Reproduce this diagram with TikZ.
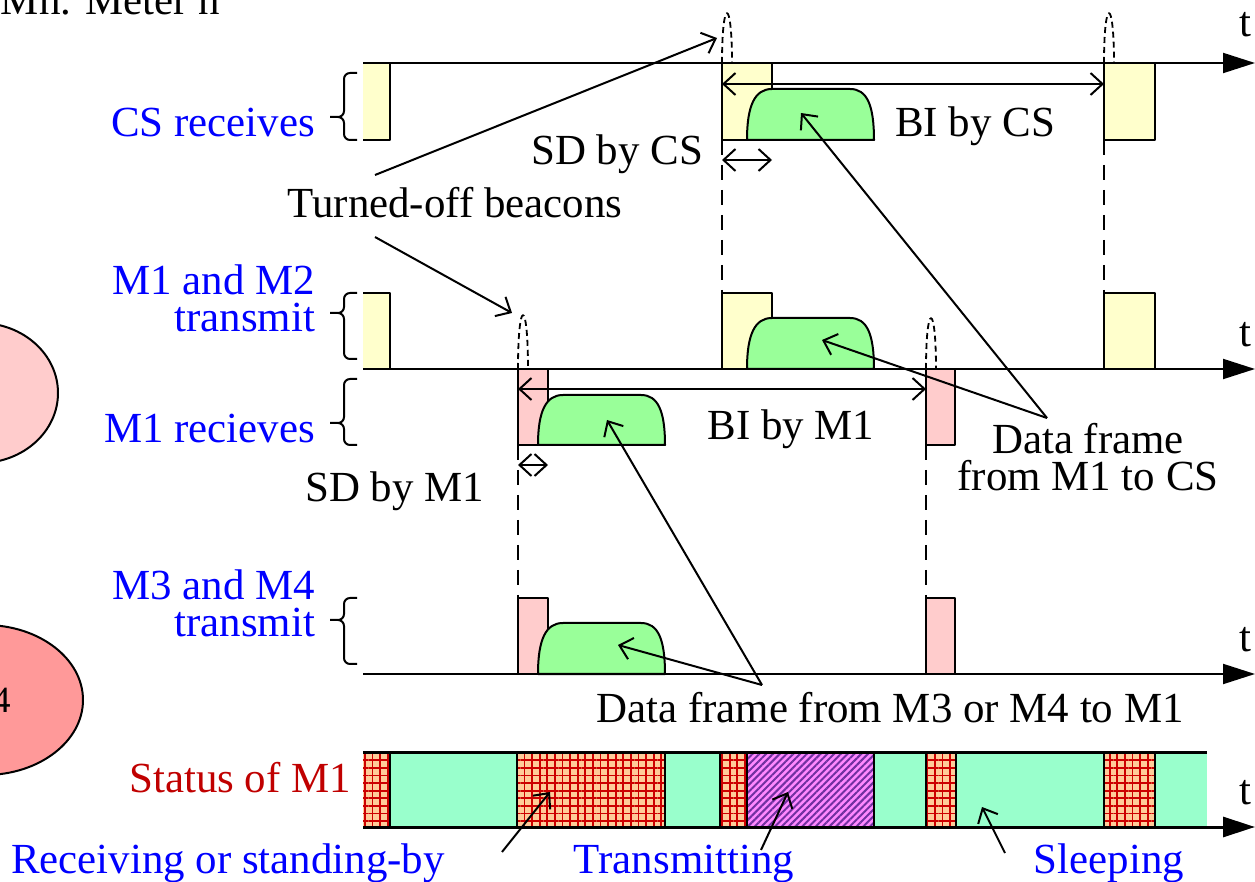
\documentclass[tikz,border=0pt]{standalone}
\usepackage{fontspec}
\setmainfont{Liberation Serif}
\usetikzlibrary{arrows.meta,patterns.meta,shapes.geometric}
\definecolor{beacon_yellow}{HTML}{FFFFCC}
\definecolor{beacon_pink}{HTML}{FFCCCC}
\definecolor{frame_green}{HTML}{99FF99}
\definecolor{sleep_green}{HTML}{99FFCC}
\definecolor{recv_orange}{HTML}{FFCC99}
\definecolor{recv_red}{HTML}{CC0000}
\definecolor{tx_pink}{HTML}{FF88FF}
\definecolor{tx_purple}{HTML}{7030A0}
\definecolor{status_red}{HTML}{C00000}
\definecolor{meter_pink}{HTML}{FF9999}
\tikzset{
  axis/.style={line width=1pt,-{Triangle[length=16pt,width=10pt]}},
  note/.style={line width=1pt,-{Straight Barb[length=6pt,width=11pt]}},
  span/.style={line width=1pt,{Straight Barb[length=6pt,width=11pt]}-{Straight Barb[length=6pt,width=11pt]}},
  offbeacon/.style={line width=0.9pt,dash pattern=on 3pt off 2pt},
  bound/.style={line width=1pt,dash pattern=on 7.5pt off 5pt},
  tlbl/.style={anchor=base,inner sep=0pt,xshift=-5pt,yshift=11pt},
  lbl/.style={text=blue,inner sep=0pt,align=right},
  txt/.style={inner sep=0pt,align=center},
  recvfill/.style={fill=recv_orange,postaction={pattern={Hatch[angle=0,distance=3.8pt,line width=0.9pt]},pattern color=recv_red}},
  txfill/.style={fill=tx_pink,postaction={pattern={Lines[angle=45,distance=2.4pt,line width=1pt]},pattern color=tx_purple}},
  sleepfill/.style={fill=sleep_green}
}

\begin{document}
\begin{tikzpicture}[x=0.5pt,y=-0.5pt,line width=1pt,line join=round,font=\fontsize{21.45pt}{18.5pt}\selectfont]
	\useasboundingbox (0,0) rectangle (1255,882);
	\clip (0,0) rectangle (1255,882);
	\node[ellipse,draw,fill=beacon_pink,minimum width=78pt,minimum height=70pt] (m1) at (-20,393) {};
	\node[ellipse,draw,fill=meter_pink,minimum width=98pt,minimum height=75pt,font=\fontsize{18.5pt}{20pt}\selectfont] (m4) at (-15,700) {M4};
	\node[anchor=base west,inner sep=0pt] (meter) at (0,15) {Mh. Meter n};
	% beacon slots
	\fill[beacon_yellow] (363,63) rectangle (390,140);
	\draw (363,140) -- (390,140) -- (390,63);
	\fill[beacon_yellow] (363,293) rectangle (390,369);
	\draw (363,293) -- (390,293) -- (390,369);
	\foreach \xa/\xb/\ya/\yb/\c in {722/772/63/140/beacon_yellow, 1104/1155/63/140/beacon_yellow,
		722/772/293/369/beacon_yellow, 1104/1155/293/369/beacon_yellow,
		518/548/369/445/beacon_pink, 926/955/369/445/beacon_pink,
		518/548/598/674/beacon_pink, 926/955/598/674/beacon_pink}
		\draw[fill=\c] (\xa,\ya) rectangle (\xb,\yb);
	% data frames
	\foreach \xa/\xb/\ya/\yb in {747/874/89/140, 747/874/318/369, 538/665/395/445, 538/665/623/674}
		\draw[fill=frame_green] (\xa,\yb) .. controls (\xa,\ya+16) and (\xa+8,\ya) .. (\xa+25,\ya) -- (\xb-24,\ya) .. controls (\xb-7,\ya) and (\xb,\ya+16) .. (\xb,\yb) -- cycle;
	\coordinate (f1) at (801,113);
	\coordinate (f2) at (822,340);
	\coordinate (f3) at (607,420);
	\coordinate (f4) at (618,645);
	\foreach \x/\y/\h in {722/63/50, 1104/63/50, 518/369/54, 926/369/51}
		\draw[offbeacon] (\x,\y) .. controls (\x,\y-\h*1.33) and (\x+10,\y-\h*1.33) .. (\x+10,\y);
	\coordinate (b1) at (717,38);
	\coordinate (b2) at (512,313);
	\foreach \x/\ya/\yb in {722/140/293, 1104/140/293, 518/445/598, 926/445/598}
		\draw[bound] (\x,\ya) -- (\x,\yb);
	\draw[axis] (363,63) -- (1255,63) node[tlbl,yshift=2pt] (t1) {t};
	\draw[axis] (363,369) -- (1255,369) node[tlbl] (t2) {t};
	\draw[axis] (363,674) -- (1255,674) node[tlbl] (t3) {t};
	\draw[span] (722,84) -- (1104,84);
	\draw[span] (722,160) -- (772,160);
	\draw[span] (518,389) -- (926,389);
	\draw[span] (518,465) -- (548,465);
	% labels
	\node[lbl,anchor=base east] (csrx) at (316,137) {CS receives};
	\node[lbl,anchor=south east] (m12tx) at (316,333) {M1 and M2\\transmit};
	\node[lbl,anchor=base east] (m1rx) at (316,443) {M1 recieves};
	\node[lbl,anchor=south east] (m34tx) at (316,638) {M3 and M4\\transmit};
	\node[anchor=base east,inner sep=0pt,text=status_red] (status) at (352,792) {Status of M1};
	\foreach \ya/\yb/\yt in {73/140/117, 293/359/313, 379/445/423, 598/664/620}
		\draw[rounded corners=3pt] (357,\ya) -- (344,\ya) -- (344,\yt) -- (330,\yt) (330,\yt) -- (344,\yt) -- (344,\yb) -- (357,\yb);
	\node[txt,anchor=base east] (sdcs) at (704,165) {SD by CS};
	\node[txt,anchor=base] (bics) at (975,137) {BI by CS};
	\node[txt,anchor=base] (beacons) at (455,218) {Turned-off beacons};
	\node[txt,anchor=base] (bim1) at (791,440) {BI by M1};
	\node[txt,anchor=base east] (sdm1) at (485,502) {SD by M1};
	\node[txt,anchor=south] (dfcs) at (1088,492) {Data frame\\from M1 to CS};
	\node[txt,anchor=base] (dfm1) at (890,722) {Data frame from M3 or M4 to M1};
	\node[txt,anchor=base west,text=blue] (rxlbl) at (10,873) {Receiving or standing-by};
	\node[txt,anchor=base,text=blue] (txlbl) at (684,873) {Transmitting};
	\node[txt,anchor=base,text=blue] (sllbl) at (1109,873) {Sleeping};
	% status of M1
	\foreach \xa/\xb/\s in {363/390/recvfill, 390/517/sleepfill, 517/665/recvfill, 665/720/sleepfill,
		720/747/recvfill, 747/874/txfill, 874/926/sleepfill, 926/956/recvfill,
		956/1104/sleepfill, 1104/1155/recvfill, 1155/1207/sleepfill}
		\path[\s] (\xa,752) rectangle (\xb,827);
	\foreach \x in {390,517,665,720,747,874,926,956,1104,1155}
		\draw (\x,752) -- (\x,827);
	\draw[line width=1.5pt] (363,752) -- (1207,752);
	\draw[axis,line width=1.5pt] (363,827) -- (1255,827) node[tlbl] (t4) {t};
	\coordinate (rx) at (550,792);
	\coordinate (tx) at (788,792);
	\coordinate (sl) at (982,807);
	% pointers
	\coordinate (beacons-up) at (375,175);
	\coordinate (beacons-dn) at (375,237);
	\coordinate (dfcs-tail) at (1047,418);
	\coordinate (dfm1-tail) at (762,685);
	\coordinate (rx-tail) at (502,852);
	\coordinate (tx-tail) at (761,850);
	\coordinate (sl-tail) at (1005,853);
	\draw[note] (beacons-up) -- (b1);
	\draw[note] (beacons-dn) -- (b2);
	\draw[note] (dfcs-tail) -- (f1);
	\draw[note] (dfcs-tail) -- (f2);
	\draw[note] (dfm1-tail) -- (f3);
	\draw[note] (dfm1-tail) -- (f4);
	\draw[note] (rx-tail) -- (rx);
	\draw[note] (tx-tail) -- (tx);
	\draw[note] (sl-tail) -- (sl);
\end{tikzpicture}
\end{document}
